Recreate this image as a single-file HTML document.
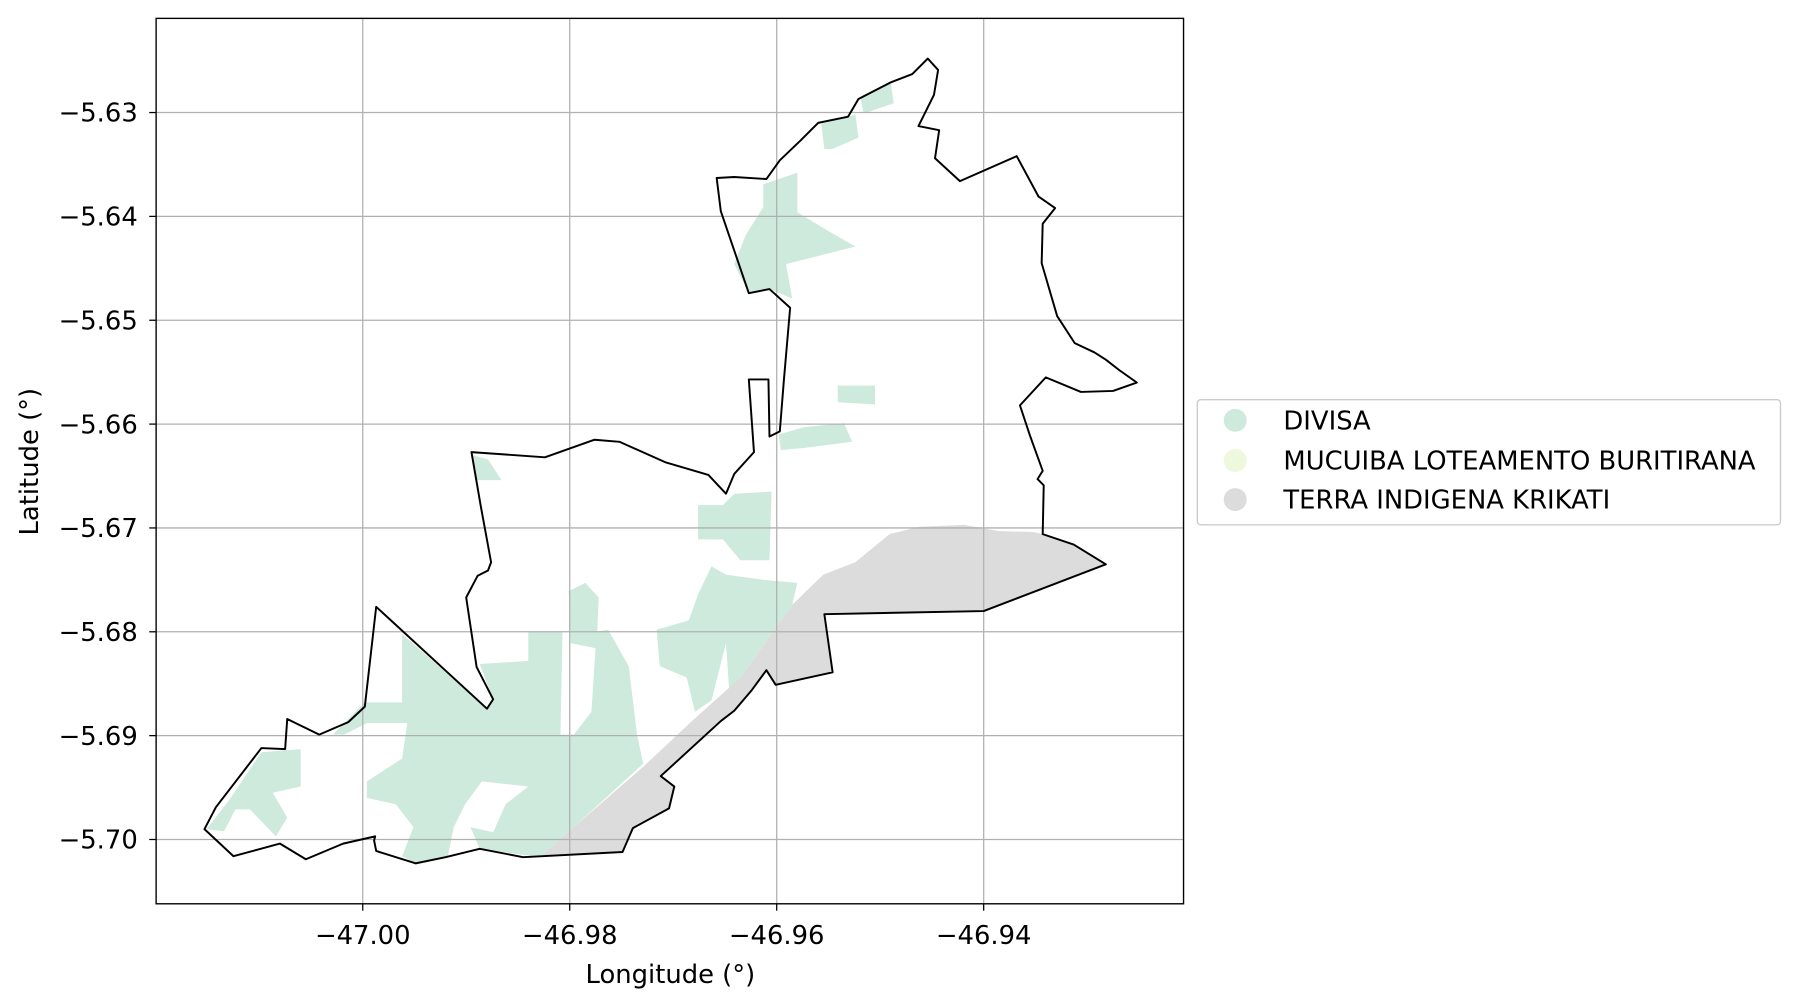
<!DOCTYPE html>
<html><head><meta charset="utf-8"><style>
html,body{margin:0;padding:0;background:#fff;}
svg{display:block;font-family:"DejaVu Sans","Liberation Sans",sans-serif;}
</style></head><body>
<svg id="chart" width="1800" height="1006" viewBox="0 0 1568 876" preserveAspectRatio="none" xmlns="http://www.w3.org/2000/svg">
<rect x="0" y="0" width="1568" height="876" fill="#fff"/>
<g id="layers"></g>
<g id="legend">
  <rect x="1043" y="348" width="508" height="109" rx="3" fill="#fff" stroke="#ccc" stroke-width="1.2"/>
  <g><circle cx="1076" cy="366" r="10" fill="#cdeadc"/><text x="1118" y="374" font-size="22.5">DIVISA</text></g>
  <g><circle cx="1076" cy="401" r="10" fill="#edf8dc"/><text x="1118" y="409" font-size="22.5">MUCUIBA LOTEAMENTO BURITIRANA</text></g>
  <g><circle cx="1076" cy="435" r="10" fill="#dcdcdc"/><text x="1118" y="443" font-size="22.5">TERRA INDIGENA KRIKATI</text></g>
</g>
<text x="584" y="856" font-size="22.5" text-anchor="middle">Longitude (°)</text>
<text x="33" y="402" font-size="22.5" text-anchor="middle" transform="rotate(-90 33 402)">Latitude (°)</text>
</svg>
<script>
const xTicks=[-47.00,-46.98,-46.96,-46.94];
const xTickLabels=["−47.00","−46.98","−46.96","−46.94"];
const yTicks=[-5.63,-5.64,-5.65,-5.66,-5.67,-5.68,-5.69,-5.70];
const yTickLabels=["−5.63","−5.64","−5.65","−5.66","−5.67","−5.68","−5.69","−5.70"];
const boundaryLon=[-47.0153,-47.0142,-47.0098,-47.0075,-47.0073,-47.0042,-47.0014,-46.9998,-46.9987,-46.9880,-46.9874,-46.9890,-46.9900,-46.9889,-46.9879,-46.9876,-46.9886,-46.9895,-46.9824,-46.9776,-46.9752,-46.9707,-46.9666,-46.9649,-46.9641,-46.9622,-46.9627,-46.9608,-46.9607,-46.9597,-46.9593,-46.9587,-46.9607,-46.9627,-46.9654,-46.9658,-46.9641,-46.9610,-46.9597,-46.9577,-46.9560,-46.9531,-46.9521,-46.9490,-46.9469,-46.9454,-46.9444,-46.9448,-46.9463,-46.9443,-46.9447,-46.9423,-46.9368,-46.9347,-46.9331,-46.9343,-46.9344,-46.9329,-46.9312,-46.9293,-46.9282,-46.9269,-46.9252,-46.9275,-46.9306,-46.9340,-46.9365,-46.9355,-46.9343,-46.9348,-46.9342,-46.9343,-46.9313,-46.9282,-46.9400,-46.9554,-46.9546,-46.9601,-46.9610,-46.9624,-46.9641,-46.9654,-46.9712,-46.9699,-46.9704,-46.9739,-46.9749,-46.9845,-46.9887,-46.9920,-46.9949,-46.9987,-46.9989,-46.9988,-47.0019,-47.0055,-47.0080,-47.0125];
const boundaryLat=[-5.6990,-5.6969,-5.6912,-5.6913,-5.6884,-5.6899,-5.6887,-5.6872,-5.6776,-5.6874,-5.6865,-5.6834,-5.6767,-5.6746,-5.6741,-5.6733,-5.6679,-5.6627,-5.6632,-5.6615,-5.6617,-5.6637,-5.6649,-5.6667,-5.6648,-5.6627,-5.6557,-5.6557,-5.6612,-5.6607,-5.6557,-5.6488,-5.6470,-5.6474,-5.6395,-5.6363,-5.6362,-5.6364,-5.6346,-5.6327,-5.6310,-5.6304,-5.6287,-5.6271,-5.6263,-5.6248,-5.6259,-5.6283,-5.6313,-5.6317,-5.6344,-5.6366,-5.6342,-5.6381,-5.6392,-5.6407,-5.6445,-5.6496,-5.6522,-5.6531,-5.6538,-5.6548,-5.6560,-5.6568,-5.6569,-5.6555,-5.6582,-5.6612,-5.6645,-5.6653,-5.6659,-5.6706,-5.6716,-5.6735,-5.6780,-5.6783,-5.6839,-5.6851,-5.6837,-5.6856,-5.6876,-5.6886,-5.6939,-5.6949,-5.6970,-5.6989,-5.7012,-5.7017,-5.7009,-5.7017,-5.7023,-5.7011,-5.7001,-5.6997,-5.7004,-5.7019,-5.7004,-5.7016];
const krikatiLon=[-46.9829,-46.9796,-46.9729,-46.9682,-46.9635,-46.9615,-46.9585,-46.9555,-46.9524,-46.9491,-46.9463,-46.9419,-46.9386,-46.9352,-46.9343,-46.9313,-46.9282,-46.9400,-46.9554,-46.9546,-46.9601,-46.9610,-46.9624,-46.9641,-46.9654,-46.9712,-46.9699,-46.9704,-46.9739,-46.9749];
const krikatiLat=[-5.7017,-5.6988,-5.6930,-5.6886,-5.6844,-5.6816,-5.6774,-5.6745,-5.6733,-5.6706,-5.6699,-5.6697,-5.6703,-5.6704,-5.6706,-5.6716,-5.6735,-5.6780,-5.6783,-5.6839,-5.6851,-5.6837,-5.6856,-5.6876,-5.6886,-5.6939,-5.6949,-5.6970,-5.6989,-5.7012];
const divisaLon=[
[-47.0151,-47.0129,-47.0098,-47.0060,-47.0060,-47.0087,-47.0073,-47.0084,-47.0109,-47.0123,-47.0134],
[-47.0029,-46.9998,-46.9962,-46.9962,-46.9880,-46.9874,-46.9887,-46.9840,-46.9840,-46.9807,-46.9809,-46.9796,-46.9779,-46.9774,-46.9763,-46.9743,-46.9735,-46.9729,-46.9796,-46.9829,-46.9887,-46.9896,-46.9874,-46.9862,-46.9840,-46.9885,-46.9901,-46.9912,-46.9918,-46.9949,-46.9962,-46.9951,-46.9968,-46.9996,-46.9996,-46.9962,-46.9957,-46.9996,-47.0018],
[-46.9716,-46.9685,-46.9676,-46.9663,-46.9649,-46.9613,-46.9580,-46.9585,-46.9615,-46.9635,-46.9646,-46.9649,-46.9663,-46.9679,-46.9687,-46.9713],
[-46.9676,-46.9652,-46.9641,-46.9605,-46.9607,-46.9635,-46.9652,-46.9676],
[-46.9641,-46.9630,-46.9613,-46.9613,-46.9580,-46.9580,-46.9552,-46.9524,-46.9591,-46.9585,-46.9607,-46.9627],
[-46.9557,-46.9524,-46.9521,-46.9546,-46.9554],
[-46.9519,-46.9490,-46.9487,-46.9516],
[-46.9598,-46.9574,-46.9535,-46.9527,-46.9574,-46.9596],
[-46.9541,-46.9505,-46.9505,-46.9541],
[-46.9894,-46.9879,-46.9866,-46.9890],
[-46.9801,-46.9785,-46.9772,-46.9774,-46.9799]];
const divisaLat=[
[-5.6990,-5.6962,-5.6916,-5.6913,-5.6949,-5.6955,-5.6979,-5.6997,-5.6971,-5.6971,-5.6992],
[-5.6899,-5.6868,-5.6868,-5.6802,-5.6874,-5.6865,-5.6831,-5.6828,-5.6800,-5.6800,-5.6899,-5.6899,-5.6877,-5.6800,-5.6798,-5.6833,-5.6899,-5.6927,-5.6988,-5.7017,-5.7009,-5.6988,-5.6993,-5.6966,-5.6949,-5.6944,-5.6966,-5.6988,-5.7017,-5.7023,-5.7016,-5.6988,-5.6966,-5.6960,-5.6944,-5.6922,-5.6888,-5.6888,-5.6899],
[-5.6798,-5.6789,-5.6764,-5.6737,-5.6745,-5.6750,-5.6753,-5.6774,-5.6816,-5.6844,-5.6855,-5.6811,-5.6866,-5.6877,-5.6844,-5.6833],
[-5.6678,-5.6678,-5.6667,-5.6665,-5.6731,-5.6731,-5.6711,-5.6711],
[-5.6446,-5.6418,-5.6391,-5.6369,-5.6358,-5.6396,-5.6413,-5.6429,-5.6446,-5.6479,-5.6470,-5.6474],
[-5.6311,-5.6302,-5.6324,-5.6335,-5.6335],
[-5.6286,-5.6271,-5.6291,-5.6301],
[-5.6610,-5.6603,-5.6599,-5.6617,-5.6623,-5.6625],
[-5.6563,-5.6563,-5.6581,-5.6579],
[-5.6630,-5.6634,-5.6654,-5.6654],
[-5.6761,-5.6753,-5.6767,-5.6816,-5.6811]];

const AX={l:136,r:1031,t:16,b:787};
function sx(lon){return 316+(lon+47.0)*9015;}
function sy(lat){return 98+(-5.63-lat)*9043;}
const NS="http://www.w3.org/2000/svg";
const g=document.getElementById('layers');
function mk(tag,attrs){const e=document.createElementNS(NS,tag);for(const k in attrs)e.setAttribute(k,attrs[k]);return e;}
function pts(lons,lats){return lons.map((v,i)=>sx(v).toFixed(1)+','+sy(lats[i]).toFixed(1)).join(' ');}

const clip=mk('clipPath',{id:'axclip'});
clip.appendChild(mk('rect',{x:AX.l,y:AX.t,width:AX.r-AX.l,height:AX.b-AX.t}));
g.appendChild(clip);
const plot=mk('g',{'clip-path':'url(#axclip)'});


g.appendChild(plot);

divisaLon.forEach((lons,i)=>{
  const p=mk('polygon',{points:pts(lons,divisaLat[i]),fill:'#cdeadc',stroke:'none'});
  
  
  plot.appendChild(p);
});
const kr=mk('polygon',{points:pts(krikatiLon,krikatiLat),fill:'#dcdcdc',stroke:'none'});


plot.appendChild(kr);

const grid=mk('g',{stroke:'#b0b0b0','stroke-width':1.1});


plot.appendChild(grid);
xTicks.forEach(v=>{grid.appendChild(mk('line',{x1:sx(v),x2:sx(v),y1:AX.t,y2:AX.b}));});
yTicks.forEach(v=>{grid.appendChild(mk('line',{x1:AX.l,x2:AX.r,y1:sy(v),y2:sy(v)}));});

const bd=mk('polygon',{points:pts(boundaryLon,boundaryLat),fill:'none',stroke:'#000','stroke-width':1.7,'stroke-linejoin':'round'});


plot.appendChild(bd);

const frame=mk('rect',{x:AX.l,y:AX.t,width:AX.r-AX.l,height:AX.b-AX.t,fill:'none',stroke:'#000','stroke-width':1.2});


g.appendChild(frame);

xTicks.forEach((v,i)=>{
  const x=sx(v);
  const t=mk('line',{x1:x,x2:x,y1:AX.b,y2:AX.b+6,stroke:'#000','stroke-width':1.1});
  
  
  g.appendChild(t);
  const l=mk('text',{x:x,y:AX.b+35,'font-size':22.5,'text-anchor':'middle'});
  
  
  l.textContent=xTickLabels[i];g.appendChild(l);
});
yTicks.forEach((v,i)=>{
  const y=sy(v);
  const t=mk('line',{x1:AX.l-6,x2:AX.l,y1:y,y2:y,stroke:'#000','stroke-width':1.1});
  
  
  g.appendChild(t);
  const l=mk('text',{x:AX.l-16,y:y+8,'font-size':22.5,'text-anchor':'end'});
  
  
  l.textContent=yTickLabels[i];g.appendChild(l);
});
</script>
</body></html>
